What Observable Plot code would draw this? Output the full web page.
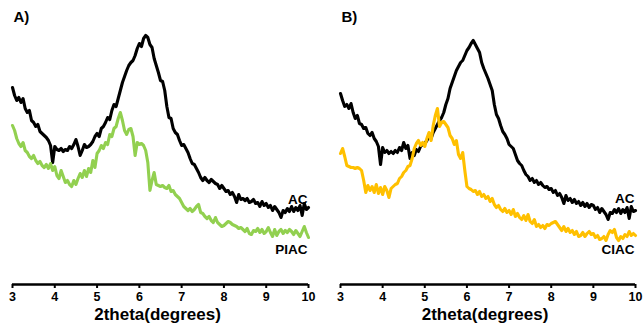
<!DOCTYPE html>
<html>
<head>
<meta charset="utf-8">
<script src="https://cdn.jsdelivr.net/npm/d3@7"></script>
<script src="https://cdn.jsdelivr.net/npm/@observablehq/plot@0.6"></script>
<style>
  html, body { margin: 0; padding: 0; background: #fff; }
  #wrap { display: flex; width: 644px; height: 324px; }
  #wrap svg { display: block; }
</style>
</head>
<body>
<div id="wrap"></div>
<script>
// 2θ sampling grid (degrees), 3.00 → 10.00 in 0.05° steps
const twoTheta = d3.range(141).map(i => +(3 + i * 0.05).toFixed(2));
const xTicks = [3, 4, 5, 6, 7, 8, 9, 10];

// Intensities (a.u.)
const acA = [
  197,189,184,187,182,186,176,172,174,164,
  162,158,160,153,151,149,147,144,139,122,
  138,135,134,136,133,135,134,138,136,140,
  145,138,129,134,140,137,138,140,143,148,
  151,148,156,158,162,167,165,174,180,178,
  186,194,202,208,214,219,222,224,229,236,
  241,238,246,249,247,240,237,226,219,212,
  204,203,194,178,167,166,156,152,150,144,
  139,140,136,132,126,121,120,116,112,107,
  104,107,104,102,105,103,101,100,96,99,
  96,93,94,90,92,88,82,90,85,86,
  84,86,82,83,85,81,82,78,83,79,
  81,77,79,74,78,75,72,67,74,72,
  76,73,78,73,77,74,79,69,81,75,
  77
];
const piacA = [
  159,154,146,141,138,142,134,132,128,126,
  129,124,121,123,119,117,120,116,121,114,
  118,109,106,114,108,102,104,100,98,104,
  100,106,111,107,114,108,116,112,124,117,
  131,134,139,136,142,140,150,148,156,158,
  166,172,164,154,150,155,156,148,129,142,
  140,141,139,134,122,94,104,112,100,99,
  98,99,97,96,99,93,94,90,88,86,
  82,78,76,74,76,73,75,78,80,72,
  71,68,66,68,64,62,67,62,60,58,
  59,61,63,62,60,59,58,56,57,55,
  53,56,51,50,54,53,56,52,55,51,
  53,57,52,48,55,49,53,55,51,54,
  52,55,53,50,54,51,48,53,58,52,
  47
];
const acB = [
  191,184,178,180,176,181,172,166,169,161,
  160,156,157,151,149,152,146,143,138,120,
  137,132,134,131,133,131,134,132,137,134,
  142,136,139,126,132,129,135,133,138,140,
  141,144,148,146,152,156,160,164,167,172,
  180,186,196,202,208,214,218,222,224,229,
  234,237,241,244,240,236,232,222,216,211,
  206,200,194,180,170,166,159,153,150,146,
  140,138,136,130,124,121,119,114,110,108,
  104,106,102,104,100,102,99,97,98,95,
  96,92,94,89,91,87,81,89,84,86,
  82,85,81,83,79,82,78,81,77,80,
  79,75,77,72,76,73,70,65,72,71,
  75,72,76,71,75,72,77,66,78,73,
  74
];
const ciacB = [
  131,136,128,119,118,117,117,116,117,116,
  114,104,92,99,94,98,92,100,91,97,
  90,98,94,87,96,98,100,101,106,108,
  112,114,118,119,126,136,141,144,139,142,
  138,146,152,144,159,169,176,158,162,163,
  160,157,149,146,140,144,130,126,132,114,
  98,96,95,93,94,90,93,88,90,86,
  88,83,86,80,77,79,75,73,76,72,
  74,70,75,68,71,67,65,69,64,70,
  63,61,65,58,60,57,59,56,60,59,
  61,62,63,60,57,54,58,53,56,52,
  54,50,53,48,49,52,48,51,53,50,
  51,47,49,45,46,48,44,50,54,52,
  55,47,44,48,46,50,48,53,49,51,
  49
];

const seriesNames = ["AC", "PIAC", "CIAC"];
const seriesColors = ["#000000", "#92d050", "#ffc000"];

const font = "'Liberation Sans', Arial, Helvetica, sans-serif";

function panel({ letter, series, labels, marginLeft, marginRight }) {
  const data = series.flatMap(s => s.values.map((v, i) => ({ x: twoTheta[i], y: v, name: s.name })));
  return Plot.plot({
    width: 322,
    height: 324,
    marginLeft,
    marginRight,
    marginTop: 34,
    marginBottom: 40,
    style: { fontFamily: font, background: "#fff", overflow: "visible", color: "#000" },
    x: { domain: [3, 10] },
    y: { domain: [0, 250], axis: null },
    color: { domain: seriesNames, range: seriesColors },
    marks: [
      Plot.ruleY([0], { stroke: "#000", strokeWidth: 2.5 }),
      Plot.axisX(xTicks, {
        tickSize: 4, tickPadding: 4, fontSize: 12.5, fontWeight: "bold",
        strokeWidth: 2, label: null, tickFormat: d => String(d)
      }),
      Plot.line(data, {
        x: "x", y: "y", z: "name", stroke: "name",
        strokeWidth: 3.1, strokeLinejoin: "round", curve: "linear"
      }),
      Plot.text(labels, {
        x: "x", y: "y", text: "text", textAnchor: "end", lineAnchor: "bottom",
        dx: -1, fontSize: 13.5, fontWeight: "bold", fill: "#000"
      }),
      Plot.text(["2theta(degrees)"], {
        frameAnchor: "bottom", dx: -3, dy: 35, lineAnchor: "bottom",
        fontSize: 17, fontWeight: "bold", fill: "#000"
      }),
      Plot.text([letter], {
        frameAnchor: "top-left", textAnchor: "start", lineAnchor: "bottom",
        dx: 1, dy: -13, fontSize: 15, fontWeight: "bold", fill: "#000"
      })
    ]
  });
}

const wrap = document.getElementById("wrap");
wrap.appendChild(panel({
  letter: "A)",
  series: [{ name: "AC", values: acA }, { name: "PIAC", values: piacA }],
  labels: [{ x: 10, y: 81, text: "AC" }, { x: 10, y: 31, text: "PIAC" }],
  marginLeft: 12, marginRight: 14
}));
wrap.appendChild(panel({
  letter: "B)",
  series: [{ name: "AC", values: acB }, { name: "CIAC", values: ciacB }],
  labels: [{ x: 10, y: 82, text: "AC" }, { x: 10, y: 31, text: "CIAC" }],
  marginLeft: 18, marginRight: 9
}));
</script>
</body>
</html>
